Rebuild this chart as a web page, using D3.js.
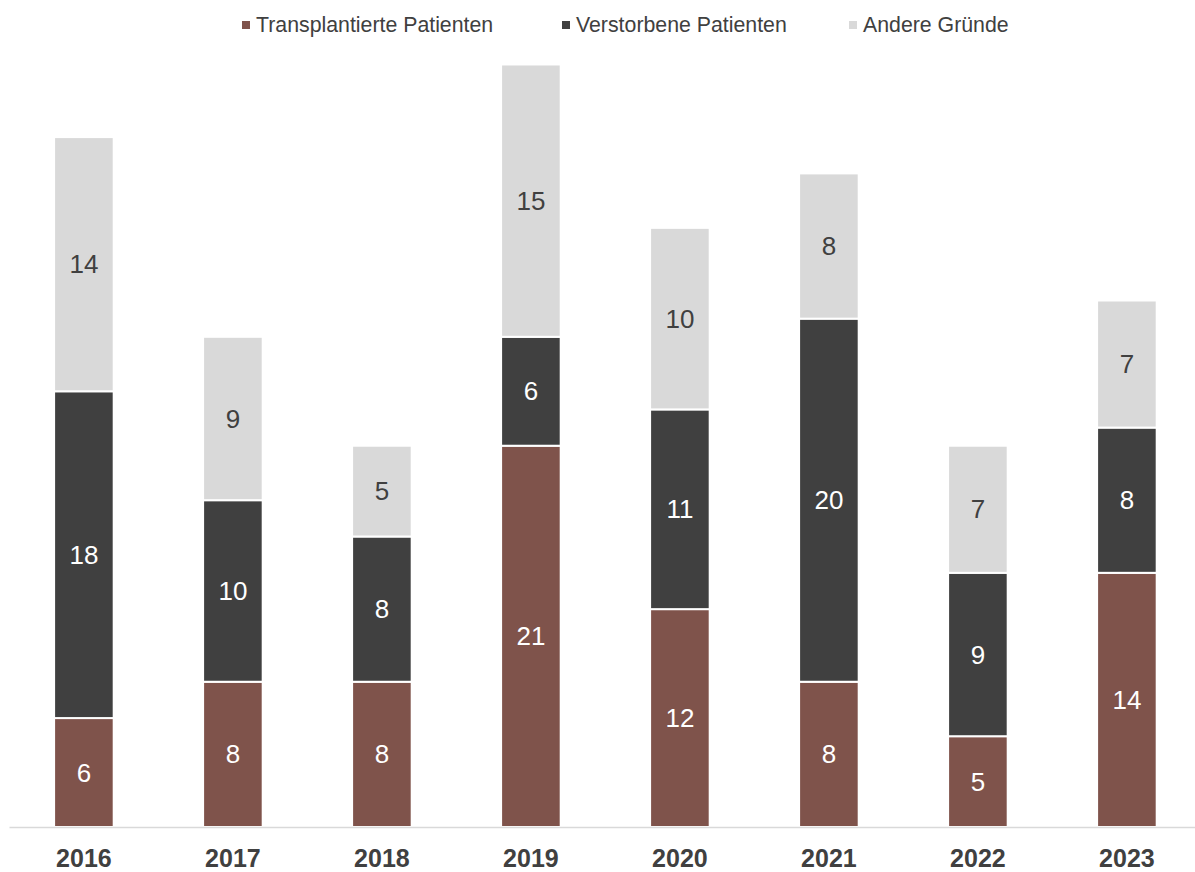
<!DOCTYPE html>
<html>
<head>
<meta charset="utf-8">
<script src="https://cdn.jsdelivr.net/npm/d3@7"></script>
<style>
  html, body { margin: 0; padding: 0; background: #fff; }
  svg { display: block; font-family: "Liberation Sans", Arial, sans-serif; }
</style>
</head>
<body>
<svg id="chart" width="1195" height="872"></svg>
<script>
const years = ["2016", "2017", "2018", "2019", "2020", "2021", "2022", "2023"];
const transplantiert = [6, 8, 8, 21, 12, 8, 5, 14];
const verstorben = [18, 10, 8, 6, 11, 20, 9, 8];
const andere = [14, 9, 5, 15, 10, 8, 7, 7];
const seriesNames = ["Transplantierte Patienten", "Verstorbene Patienten", "Andere Gründe"];
const seriesColors = ["#7f534b", "#404040", "#d9d9d9"];
const labelColors = ["#ffffff", "#ffffff", "#404040"];

const W = 1195, H = 872;
const svg = d3.select("#chart");

const rows = years.map((y, i) => ({ year: y, s0: transplantiert[i], s1: verstorben[i], s2: andere[i] }));
const stack = d3.stack().keys(["s0", "s1", "s2"]);
const stacked = stack(rows);

const x = d3.scaleBand().domain(years).range([9.4, 1201.4]).paddingInner(0.6).paddingOuter(0.3);
const y = d3.scaleLinear().domain([0, 45]).range([827, 10]);

const layers = svg.append("g").selectAll("g").data(stacked).join("g")
  .attr("fill", (d, i) => seriesColors[i]);

layers.selectAll("rect").data(d => d).join("rect")
  .attr("x", d => x(d.data.year))
  .attr("width", x.bandwidth())
  .attr("y", d => y(d[1]))
  .attr("height", d => y(d[0]) - y(d[1]))
  .attr("stroke", "#fff")
  .attr("stroke-width", 2);

// axis line
svg.append("line")
  .attr("x1", 9.5).attr("x2", W)
  .attr("y1", 827.5).attr("y2", 827.5)
  .attr("stroke", "#d9d9d9").attr("stroke-width", 1.5);

// value labels
stacked.forEach((layer, i) => {
  svg.append("g").selectAll("text").data(layer).join("text")
    .attr("x", d => x(d.data.year) + x.bandwidth() / 2)
    .attr("y", d => (y(d[0]) + y(d[1])) / 2)
    .attr("dy", "0.35em")
    .attr("text-anchor", "middle")
    .attr("font-size", 26)
    .attr("fill", labelColors[i])
    .text(d => d[1] - d[0]);
});

// x axis labels
const xAxis = d3.axisBottom(x).tickSize(0).tickPadding(0);
const ax = svg.append("g").attr("transform", "translate(0,828)").call(xAxis);
ax.select(".domain").remove();
ax.selectAll("text")
  .attr("y", 39)
  .attr("dy", 0)
  .attr("font-size", 25)
  .attr("font-weight", "bold")
  .attr("font-family", "'Liberation Sans', Arial, sans-serif")
  .attr("fill", "#404040");

// legend
const legendX = [242, 562, 849];
const lg = svg.append("g");
seriesNames.forEach((name, i) => {
  lg.append("rect")
    .attr("x", legendX[i]).attr("y", 21)
    .attr("width", 8).attr("height", 8)
    .attr("fill", seriesColors[i]);
  lg.append("text")
    .attr("x", legendX[i] + 14).attr("y", 25)
    .attr("dy", "0.35em")
    .attr("font-size", 21.3)
    .attr("fill", "#404040")
    .text(name);
});
</script>
</body>
</html>
